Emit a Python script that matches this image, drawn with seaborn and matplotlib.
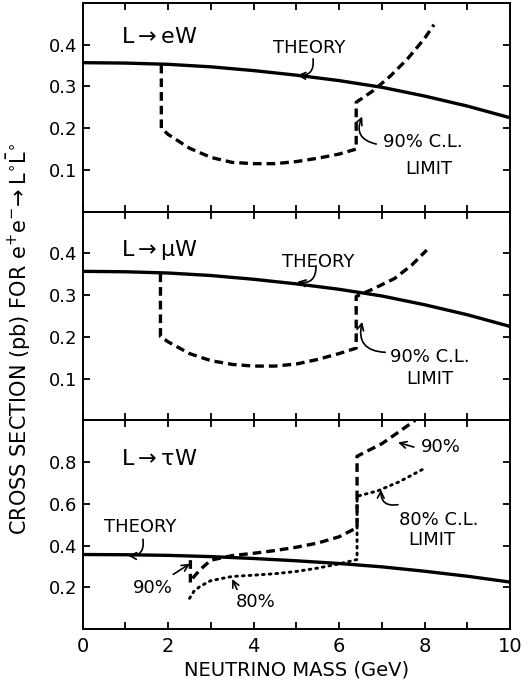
import numpy as np
import pandas as pd
import matplotlib
matplotlib.use("Agg")
import matplotlib.pyplot as plt
import seaborn as sns

# ---- data ----
mass_theory = [0, 1, 2, 3, 4, 5, 6, 7, 8, 9, 10]
theory = [0.357, 0.356, 0.353, 0.347, 0.338, 0.327, 0.314, 0.298, 0.277, 0.253, 0.225]

ew_mass = [1.84, 1.84, 2.0, 2.5, 3.0, 3.5, 4.0, 4.5, 5.0, 5.5, 6.0, 6.4, 6.4, 6.8, 7.2, 7.6, 8.0, 8.22]
ew_lim90 = [0.352, 0.200, 0.185, 0.152, 0.130, 0.118, 0.115, 0.115, 0.120, 0.128, 0.138, 0.150, 0.262, 0.290, 0.325, 0.366, 0.415, 0.448]

mw_mass = [1.82, 1.82, 2.0, 2.5, 3.0, 3.5, 4.0, 4.5, 5.0, 5.5, 6.0, 6.4, 6.4, 6.8, 7.3, 7.7, 8.05]
mw_lim90 = [0.352, 0.201, 0.188, 0.160, 0.143, 0.134, 0.130, 0.130, 0.135, 0.146, 0.160, 0.173, 0.297, 0.315, 0.340, 0.372, 0.408]

tw_mass90 = [2.52, 2.52, 2.6, 2.75, 3.0, 3.5, 4.0, 4.5, 5.0, 5.5, 6.0, 6.42, 6.42, 7.0, 7.4, 7.78]
tw_lim90 = [0.330, 0.222, 0.250, 0.285, 0.330, 0.352, 0.363, 0.376, 0.392, 0.412, 0.442, 0.486, 0.828, 0.888, 0.945, 1.000]

tw_mass80 = [2.5, 2.6, 2.75, 3.0, 3.5, 4.0, 4.5, 5.0, 5.5, 6.0, 6.42, 6.42, 6.9, 7.4, 8.02]
tw_lim80 = [0.147, 0.180, 0.205, 0.232, 0.252, 0.258, 0.265, 0.276, 0.292, 0.312, 0.333, 0.636, 0.662, 0.705, 0.772]

xticks = [0, 2, 4, 6, 8, 10]
yticks_top = [0.1, 0.2, 0.3, 0.4]
yticks_bot = [0.2, 0.4, 0.6, 0.8]
panel_titles = [r"L$\rightarrow$eW", r"L$\rightarrow\mu$W", r"L$\rightarrow\tau$W"]

sns.set_theme(style="ticks")
plt.rcParams['font.family'] = ['DejaVu Sans']
plt.rcParams['mathtext.default'] = 'regular'
plt.rcParams['text.color'] = 'black'
plt.rcParams['axes.labelcolor'] = 'black'
plt.rcParams['xtick.color'] = 'black'
plt.rcParams['ytick.color'] = 'black'

fig, axes = plt.subplots(3, 1, figsize=(5.28, 6.92), dpi=100, sharex=True)
fig.subplots_adjust(left=0.1566, right=0.966, bottom=0.091, top=0.9957, hspace=0)

LW_T = 2.4
LW_D = 2.4
DASH = (0, (2.6, 1.5))
DOT = (0, (0.6, 1.7))
txt_kw = dict(fontsize=13, ha="center", va="center", color="black")
arr = dict(arrowstyle="->", color="black", lw=1.2, shrinkA=0, shrinkB=0)

df_th = pd.DataFrame({"m": mass_theory, "s": theory})

for i, ax in enumerate(axes):
    sns.lineplot(data=df_th, x="m", y="s", ax=ax, color="black", lw=LW_T, estimator=None, sort=False)

d1 = pd.DataFrame({"m": ew_mass, "s": ew_lim90})
sns.lineplot(data=d1, x="m", y="s", ax=axes[0], color="black", lw=LW_D, linestyle=DASH, estimator=None, sort=False)
d2 = pd.DataFrame({"m": mw_mass, "s": mw_lim90})
sns.lineplot(data=d2, x="m", y="s", ax=axes[1], color="black", lw=LW_D, linestyle=DASH, estimator=None, sort=False)
d3 = pd.DataFrame({"m": tw_mass90, "s": tw_lim90})
sns.lineplot(data=d3, x="m", y="s", ax=axes[2], color="black", lw=LW_D, linestyle=DASH, estimator=None, sort=False)
d4 = pd.DataFrame({"m": tw_mass80, "s": tw_lim80})
sns.lineplot(data=d4, x="m", y="s", ax=axes[2], color="black", lw=2.1, linestyle=DOT, estimator=None, sort=False)
axes[2].get_lines()[-1].set_dash_capstyle("round")

title_pos = [(0.9, 0.418), (0.9, 0.408), (0.9, 0.815)]
for i, ax in enumerate(axes):
    ax.set_xlim(0, 10)
    if i < 2:
        ax.set_ylim(0, 0.5)
        ax.set_yticks(yticks_top)
    else:
        ax.set_ylim(0, 1.0)
        ax.set_yticks(yticks_bot)
    ax.set_xticks(range(0, 11))
    ax.set_xticklabels([str(v) if v in xticks else "" for v in range(0, 11)])
    ax.tick_params(direction="in", length=5, width=1.3, top=True, right=True,
                   labelsize=13, colors="black", pad=4)
    ax.tick_params(axis="x", labelsize=14, pad=6)
    for sp in ax.spines.values():
        sp.set_linewidth(1.4)
        sp.set_color("black")
        sp.set_visible(True)
    ax.set_xlabel("")
    ax.set_ylabel("")
    ax.text(title_pos[i][0], title_pos[i][1], panel_titles[i], fontsize=16,
            ha="left", va="center", color="black")

# annotations panel 1
ax = axes[0]
ax.text(5.3, 0.393, "THEORY", **txt_kw)
ax.annotate("", xy=(5.02, 0.327), xytext=(5.39, 0.366),
            arrowprops=dict(arr, connectionstyle="arc3,rad=-0.6"))
ax.text(7.95, 0.166, "90% C.L.", **txt_kw)
ax.text(8.1, 0.103, "LIMIT", **txt_kw)
ax.annotate("", xy=(6.54, 0.228), xytext=(6.87, 0.162),
            arrowprops=dict(arr, connectionstyle="arc3,rad=-0.6"))

# annotations panel 2
ax = axes[1]
ax.text(5.5, 0.38, "THEORY", **txt_kw)
ax.annotate("", xy=(5.02, 0.332), xytext=(5.46, 0.37),
            arrowprops=dict(arr, connectionstyle="arc3,rad=-0.6"))
ax.text(8.13, 0.152, "90% C.L.", **txt_kw)
ax.text(8.13, 0.100, "LIMIT", **txt_kw)
ax.annotate("", xy=(6.54, 0.236), xytext=(7.08, 0.163),
            arrowprops=dict(arr, connectionstyle="arc3,rad=-0.6"))

# annotations panel 3
ax = axes[2]
ax.text(1.34, 0.49, "THEORY", **txt_kw)
ax.annotate("", xy=(1.06, 0.352), xytext=(1.41, 0.43),
            arrowprops=dict(arr, connectionstyle="arc3,rad=-0.6"))
ax.text(8.38, 0.872, "90%", **txt_kw)
ax.annotate("", xy=(7.38, 0.894), xytext=(7.75, 0.872),
            arrowprops=dict(arr, connectionstyle="arc3,rad=0.0"))
ax.text(8.34, 0.524, "80% C.L.", **txt_kw)
ax.text(8.18, 0.428, "LIMIT", **txt_kw)
ax.annotate("", xy=(6.98, 0.668), xytext=(7.38, 0.596),
            arrowprops=dict(arr, connectionstyle="arc3,rad=-0.6"))
ax.text(1.63, 0.197, "90%", **txt_kw)
ax.annotate("", xy=(2.51, 0.313), xytext=(2.12, 0.262),
            arrowprops=dict(arr, connectionstyle="arc3,rad=0.0"))
ax.text(4.04, 0.131, "80%", **txt_kw)
ax.annotate("", xy=(3.5, 0.24), xytext=(3.61, 0.19),
            arrowprops=dict(arr, connectionstyle="arc3,rad=0.0"))

axes[2].set_xlabel("NEUTRINO MASS (GeV)", fontsize=14, labelpad=3, color="black")
fig.text(0.036, 0.51,
         r"CROSS SECTION (pb) FOR $e^{+}e^{-}\!\rightarrow L^{\circ}\bar{L}^{\circ}$",
         rotation=90, ha="center", va="center", fontsize=15, color="black")

fig.savefig("out.png", dpi=100)
